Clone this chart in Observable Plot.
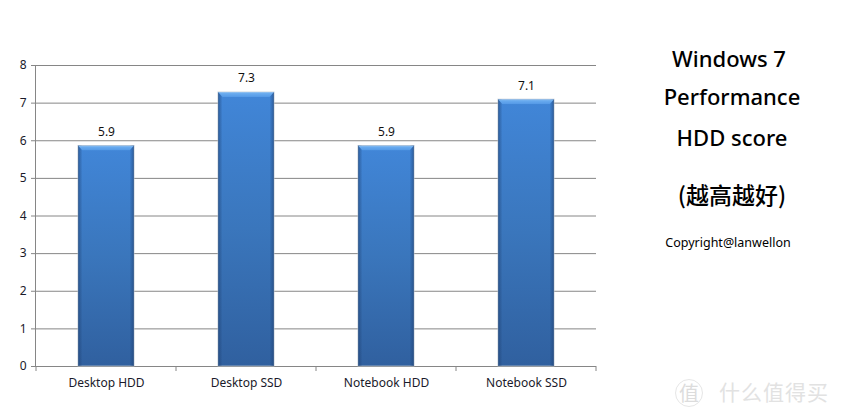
<!DOCTYPE html>
<html>
<head>
<meta charset="utf-8">
<script src="https://cdn.jsdelivr.net/npm/d3@7"></script>
<script src="https://cdn.jsdelivr.net/npm/@observablehq/plot@0.6"></script>
<style>
html,body{margin:0;padding:0;background:#fff;}
#wrap{position:relative;width:842px;height:420px;overflow:hidden;}
#wrap svg{display:block;}
.note{position:absolute;white-space:nowrap;transform:translateX(-50%);color:#000;font-family:"Noto Sans","Noto Sans CJK SC",sans-serif;}
.t{font-size:22px;font-weight:500;line-height:30px;}
.wm{position:absolute;white-space:nowrap;color:#e2e2e2;font-family:"Noto Sans CJK SC",sans-serif;}
.cap rect{clip-path:polygon(0 0,100% 0,92% 100%,8% 100%);}
</style>
</head>
<body>
<div id="wrap"></div>
<script>
const categories = ["Desktop HDD", "Desktop SSD", "Notebook HDD", "Notebook SSD"];
const scores = [5.86, 7.28, 5.86, 7.09];
const yTicks = [0, 1, 2, 3, 4, 5, 6, 7, 8];
const titleLines = ["Windows 7", "Performance", "HDD score", "(越高越好)"];
const copyright = "Copyright@lanwellon";

const rows = categories.map((c, i) => ({category: c, score: scores[i]}));
const fontFamily = '"Noto Sans", "Open Sans", sans-serif';
const bevel = 0.13;

function gradients() {
  const ns = "http://www.w3.org/2000/svg";
  const defs = document.createElementNS(ns, "defs");
  defs.innerHTML = `
    <linearGradient id="body" x1="0" y1="0" x2="0" y2="1">
      <stop offset="0" stop-color="#4186d8"/>
      <stop offset="0.5" stop-color="#3a76bc"/>
      <stop offset="1" stop-color="#30609f"/>
    </linearGradient>
    <linearGradient id="side" x1="0" y1="0" x2="1" y2="0">
      <stop offset="0" stop-color="#1d3f70" stop-opacity="0.6"/>
      <stop offset="0.08" stop-color="#1d3f70" stop-opacity="0"/>
      <stop offset="0.92" stop-color="#1d3f70" stop-opacity="0"/>
      <stop offset="1" stop-color="#1d3f70" stop-opacity="0.6"/>
    </linearGradient>
    <linearGradient id="cap" x1="0" y1="0" x2="0" y2="1">
      <stop offset="0" stop-color="#9cc8f2"/>
      <stop offset="0.3" stop-color="#69abef"/>
      <stop offset="1" stop-color="#5499e6"/>
    </linearGradient>`;
  return defs;
}

const chart = Plot.plot({
  width: 842,
  height: 420,
  marginLeft: 35,
  marginRight: 246,
  marginTop: 65,
  marginBottom: 54,
  style: {fontFamily, fontSize: "12px", color: "#1a1a2a", background: "#fff"},
  x: {domain: categories, paddingInner: 0.6, paddingOuter: 0.3, align: 0.5, label: null},
  y: {domain: [0, 8], label: null},
  marks: [
    gradients,
    Plot.ruleY(yTicks, {stroke: "#868686", strokeWidth: 1}),
    Plot.frame({anchor: "left", stroke: "#868686"}),
    Plot.axisY({ticks: yTicks, tickSize: 4, tickPadding: 5, stroke: "#868686", fontSize: 12, color: "#1a1a2a", label: null, tickFormat: d3.format("d")}),
    Plot.axisX({tickSize: 0, tickPadding: 12, fontSize: 12, label: null}),
    Plot.barY(rows, {x: "category", y: "score", fill: "url(#body)", stroke: "#b4bfcc", strokeWidth: 1, strokeOpacity: 0.8}),
    Plot.barY(rows, {x: "category", y: "score", fill: "url(#side)"}),
    Plot.barY(rows, {x: "category", y1: d => d.score - bevel, y2: "score", fill: "url(#cap)", className: "cap"}),
    Plot.text(rows, {x: "category", y: "score", text: d => d3.format(".1f")(d.score), dy: -14, fontSize: 12, fill: "#111"})
  ]
});

const wrap = document.getElementById("wrap");
wrap.appendChild(chart);

// category separators on the x axis, drawn on the band edges of the library's scale
const xs = chart.scale("x");
const ys = chart.scale("y");
const svg = d3.select(chart);
const gap = xs.step - xs.bandwidth;
const edges = categories.map(c => xs.apply(c) - gap / 2).concat([xs.apply(categories[3]) + xs.bandwidth + gap / 2]);
svg.append("g").attr("stroke", "#868686").selectAll("line").data(edges).join("line")
  .attr("x1", d => d).attr("x2", d => d).attr("y1", ys.apply(0)).attr("y2", ys.apply(0) + 5);

const place = (text, cx, top, cls, style) => {
  const el = document.createElement("div");
  el.className = cls;
  el.textContent = text;
  el.style.left = cx + "px";
  el.style.top = top + "px";
  if (style) el.style.cssText += style;
  wrap.appendChild(el);
};
place(titleLines[0], 729, 43, "note t");
place(titleLines[1], 732, 81, "note t");
place(titleLines[2], 732, 122, "note t");
place(titleLines[3], 732, 179, "note t", 'font-family:"Noto Sans CJK SC";font-size:23px;');
place(copyright, 728, 234, "note", "font-size:12.5px;");

const wm = document.createElement("div");
wm.className = "wm";
wm.style.cssText = "left:719px;top:378px;font-size:21px;letter-spacing:1px;line-height:26px;";
wm.textContent = "什么值得买";
wrap.appendChild(wm);
const wm2 = document.createElement("div");
wm2.className = "wm";
wm2.style.cssText = "left:675px;top:379px;width:26px;height:26px;border:1.5px solid #e6e6e6;border-radius:50%;font-size:20px;line-height:25px;text-align:center;color:#dcdcdc;";
wm2.textContent = "值";
wrap.appendChild(wm2);
</script>
</body>
</html>
